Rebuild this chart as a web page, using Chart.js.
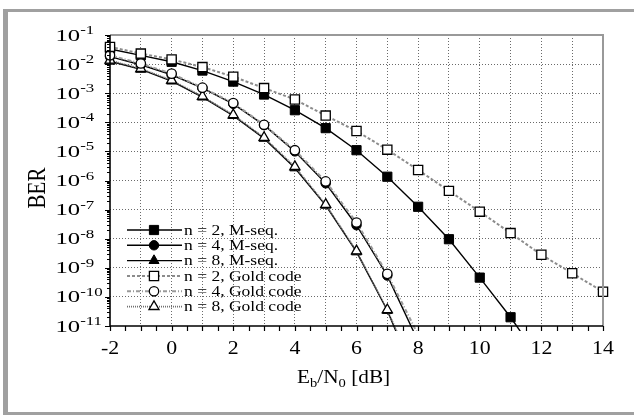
<!DOCTYPE html>
<html>
<head>
<meta charset="utf-8">
<title>BER vs Eb/N0</title>
<script src="https://cdn.jsdelivr.net/npm/chart.js@4.4.0/dist/chart.umd.min.js"></script>
<style>
  body { margin: 0; background: #fff; }
  .chart-wrapper { width: 634px; height: 415px; }
</style>
</head>
<body>
<div class="chart-wrapper"><canvas id="berChart"></canvas></div>
<script>
// Eb/N0 in dB (x axis)
const ebN0 = [-2, -1, 0, 1, 2, 3, 4, 5, 6, 7, 8, 9, 10, 11, 12, 13, 14];

// BER values (last point of each curve lies below the axis)
const berMseqN2 = [3.3e-2, 2.0e-2, 1.2e-2, 6.0e-3, 2.5e-3, 9.0e-4, 2.6e-4, 6.3e-5, 1.1e-5, 1.35e-6, 1.25e-7, 9.6e-9, 4.6e-10, 2.0e-11, 6e-13, null, null];
const berMseqN4 = [1.8e-2, 9.5e-3, 4.3e-3, 1.5e-3, 4.3e-4, 8.0e-5, 1.0e-5, 8.0e-7, 2.9e-8, 5.4e-10, 3e-12, null, null, null, null, null, null];
const berMseqN8 = [1.25e-2, 6.6e-3, 2.6e-3, 7.3e-4, 1.7e-4, 2.8e-5, 2.7e-6, 1.4e-7, 3.5e-9, 3.4e-11, 1e-13, null, null, null, null, null, null];
const berGoldN2 = [3.9e-2, 2.3e-2, 1.45e-2, 7.9e-3, 3.7e-3, 1.5e-3, 6.1e-4, 1.7e-4, 5.0e-5, 1.15e-5, 2.3e-6, 4.4e-7, 8.5e-8, 1.56e-8, 2.8e-9, 6.5e-10, 1.5e-10];
const berGoldN4 = [2.0e-2, 1.05e-2, 4.7e-3, 1.55e-3, 4.6e-4, 8.2e-5, 1.1e-5, 9.3e-7, 3.6e-8, 6.2e-10, 5e-12, null, null, null, null, null, null];
const berGoldN8 = [1.35e-2, 7.0e-3, 2.8e-3, 7.8e-4, 1.8e-4, 3.0e-5, 3.0e-6, 1.5e-7, 3.8e-9, 3.6e-11, 1.5e-13, null, null, null, null, null, null];

const seriesLabels = ['n = 2, M-seq.', 'n = 4, M-seq.', 'n = 8, M-seq.', 'n = 2, Gold code', 'n = 4, Gold code', 'n = 8, Gold code'];

// axis ticks
const xTickValues = [-2, 0, 2, 4, 6, 8, 10, 12, 14];
const xTickLabels = ['-2', '0', '2', '4', '6', '8', '10', '12', '14'];
const yTickValues = [1e-11, 1e-10, 1e-9, 1e-8, 1e-7, 1e-6, 1e-5, 1e-4, 1e-3, 1e-2, 1e-1];
const yTickExponents = ['-11', '-10', '-9', '-8', '-7', '-6', '-5', '-4', '-3', '-2', '-1'];

const serif = '"Liberation Serif", "Times New Roman", serif';
const Y_MIN = 1e-11;

function toPoints(values) {
  return ebN0.map((x, i) => ({ x: x, y: values[i] }));
}

// hide markers that fall below the axis
function markerSize(r) {
  return ctx => (ctx.raw && ctx.raw.y !== null && ctx.raw.y < Y_MIN) ? 0 : r;
}

function wideText(ctx, str, x, y, px, sx, align) {
  ctx.save();
  ctx.font = px + 'px ' + serif;
  ctx.fillStyle = '#000';
  ctx.textAlign = align || 'left';
  ctx.textBaseline = 'alphabetic';
  ctx.translate(x, y);
  ctx.scale(sx, 1);
  ctx.fillText(str, 0, 0);
  const w = ctx.measureText(str).width * sx;
  ctx.restore();
  return w;
}

function mseq(label, data, style, r) {
  return {
    label: label, data: toPoints(data), order: 1,
    borderColor: '#000', borderWidth: 1.4, spanGaps: false,
    pointStyle: style, pointRadius: markerSize(r), pointHoverRadius: markerSize(r),
    pointBackgroundColor: '#000', pointBorderColor: '#000', pointBorderWidth: 1,
    clip: { left: 10, right: 10, top: 10, bottom: 5 }
  };
}

function gold(label, data, style, r, color, dash, width) {
  return {
    label: label, data: toPoints(data), order: 0,
    borderColor: color, borderWidth: width, borderDash: dash, spanGaps: false,
    pointStyle: style, pointRadius: markerSize(r), pointHoverRadius: markerSize(r),
    pointBackgroundColor: '#fff', pointBorderColor: '#000', pointBorderWidth: 1.3,
    clip: { left: 10, right: 10, top: 10, bottom: 5 }
  };
}

const framePlugin = {
  id: 'frame',
  beforeDraw(chart) {
    const ctx = chart.ctx;
    ctx.save();
    ctx.fillStyle = '#fff';
    ctx.fillRect(0, 0, chart.width, chart.height);
    ctx.fillStyle = '#a0a0a0';
    ctx.fillRect(3, 9, chart.width - 3, 3);
    ctx.fillRect(3, 9, 5, chart.height - 9);
    ctx.fillRect(3, chart.height - 3, chart.width - 3, 3);
    ctx.restore();
  },
  afterDraw(chart) {
    const ctx = chart.ctx;
    const { left, right, top, bottom } = chart.chartArea;
    const xs = chart.scales.x, ys = chart.scales.y;

    ctx.save();
    // top and right frame of the plot
    ctx.strokeStyle = '#999';
    ctx.lineWidth = 2;
    ctx.beginPath();
    ctx.moveTo(left, top); ctx.lineTo(right, top); ctx.lineTo(right, bottom);
    ctx.stroke();

    // axes
    ctx.strokeStyle = '#000';
    ctx.lineWidth = 1.6;
    ctx.beginPath();
    ctx.moveTo(left, top); ctx.lineTo(left, bottom); ctx.lineTo(right, bottom);
    ctx.stroke();

    // x tick marks every 0.5 dB
    ctx.lineWidth = 1.2;
    ctx.beginPath();
    for (let v = xs.min; v <= xs.max; v += 0.5) {
      const px = Math.round(xs.getPixelForValue(v)) + 0.5;
      ctx.moveTo(px, bottom); ctx.lineTo(px, bottom + 5);
    }
    ctx.stroke();

    // y tick marks: decades and log minors
    ctx.beginPath();
    yTickValues.forEach(d => {
      for (let m = 1; m <= 9; m++) {
        const v = d * m;
        if (v > ys.max * 1.0001) break;
        const py = Math.round(ys.getPixelForValue(v)) + 0.5;
        ctx.moveTo(left, py); ctx.lineTo(left - (m === 1 ? 5 : 3), py);
      }
    });
    ctx.stroke();
    ctx.restore();

    // x tick labels
    xTickValues.forEach((v, i) => {
      wideText(ctx, xTickLabels[i], xs.getPixelForValue(v), 354, 19.5, 1.12, 'center');
    });

    // y tick labels 10^n
    yTickValues.forEach((v, i) => {
      const py = ys.getPixelForValue(v);
      const w = wideText(ctx, '10', 55.5, py + 5.5, 17, 1.45, 'left');
      wideText(ctx, yTickExponents[i], 55.5 + w, py - 1, 12.5, 1.35, 'left');
    });

    // x axis title Eb/N0 [dB]
    let tx = 297;
    const ty = 383;
    tx += wideText(ctx, 'E', tx, ty, 19, 1.12);
    tx += wideText(ctx, 'b', tx, ty + 4, 13, 1.12);
    tx += wideText(ctx, '/N', tx, ty, 19, 1.12);
    tx += wideText(ctx, '0', tx, ty + 4, 13, 1.12);
    wideText(ctx, ' [dB]', tx, ty, 19, 1.12);

    // y axis title
    ctx.save();
    ctx.translate(45, 188);
    ctx.rotate(-Math.PI / 2);
    ctx.scale(1, 1.15);
    ctx.font = '21px ' + serif;
    ctx.fillStyle = '#000';
    ctx.textAlign = 'center';
    ctx.fillText('BER', 0, 0);
    ctx.restore();

    // legend
    const rowY = [230, 245.3, 260.6, 276, 291.3, 306.6];
    const legendOrder = [1, 3, 5, 0, 2, 4];
    legendOrder.forEach((di, row) => {
      const ds = chart.data.datasets[di];
      const y = rowY[row];
      ctx.save();
      ctx.strokeStyle = ds.borderColor;
      ctx.lineWidth = ds.borderWidth;
      ctx.setLineDash(ds.borderDash || []);
      ctx.beginPath();
      ctx.moveTo(127, y); ctx.lineTo(182, y);
      ctx.stroke();
      ctx.setLineDash([]);
      ctx.fillStyle = ds.pointBackgroundColor;
      ctx.strokeStyle = ds.pointBorderColor;
      ctx.lineWidth = ds.pointBorderWidth;
      const r = ds.pointStyle === 'rect' ? 6.5 : (ds.pointStyle === 'circle' ? 4.7 : 5.8);
      Chart.helpers.drawPoint(ctx, { pointStyle: ds.pointStyle, radius: r, rotation: 0, borderWidth: ds.pointBorderWidth }, 154, y);
      ctx.restore();
      wideText(ctx, ds.label, 184, y + 4.5, 13.8, 1.27, 'left');
    });
  }
};

const gridColor = '#6a6a6a';

const ctx = document.getElementById('berChart').getContext('2d');
const chart = new Chart(ctx, {
  type: 'line',
  data: {
    datasets: [
      gold(seriesLabels[3], berGoldN2, 'rect', 6.5, '#8c8c8c', [3, 2], 2),
      mseq(seriesLabels[0], berMseqN2, 'rect', 6.5),
      gold(seriesLabels[4], berGoldN4, 'circle', 4.7, '#9a9a9a', [4, 2, 1, 2], 2),
      mseq(seriesLabels[1], berMseqN4, 'circle', 4.7),
      gold(seriesLabels[5], berGoldN8, 'triangle', 5.8, '#707070', [1, 1], 1.6),
      mseq(seriesLabels[2], berMseqN8, 'triangle', 5.8)
    ]
  },
  options: {
    responsive: true,
    maintainAspectRatio: false,
    animation: false,
    layout: { padding: { left: 110, right: 31, top: 35, bottom: 89 } },
    plugins: { legend: { display: false }, tooltip: { enabled: false } },
    elements: { line: { tension: 0 } },
    scales: {
      x: {
        type: 'linear', min: -2, max: 14,
        ticks: { display: false, stepSize: 1 },
        grid: {
          drawTicks: false, lineWidth: 1,
          color: c => (c.tick && c.tick.value > -2 && c.tick.value < 14) ? gridColor : 'rgba(0,0,0,0)'
        },
        border: { display: false, dash: [1, 2] }
      },
      y: {
        type: 'logarithmic', min: 1e-11, max: 1e-1,
        afterBuildTicks: s => { s.ticks = yTickValues.map(v => ({ value: v })); },
        ticks: { display: false },
        grid: {
          drawTicks: false, lineWidth: 1,
          color: c => (c.tick && c.tick.value > 1.5e-11 && c.tick.value < 0.09) ? gridColor : 'rgba(0,0,0,0)'
        },
        border: { display: false, dash: [1, 2] }
      }
    }
  },
  plugins: [framePlugin]
});
</script>
</body>
</html>
